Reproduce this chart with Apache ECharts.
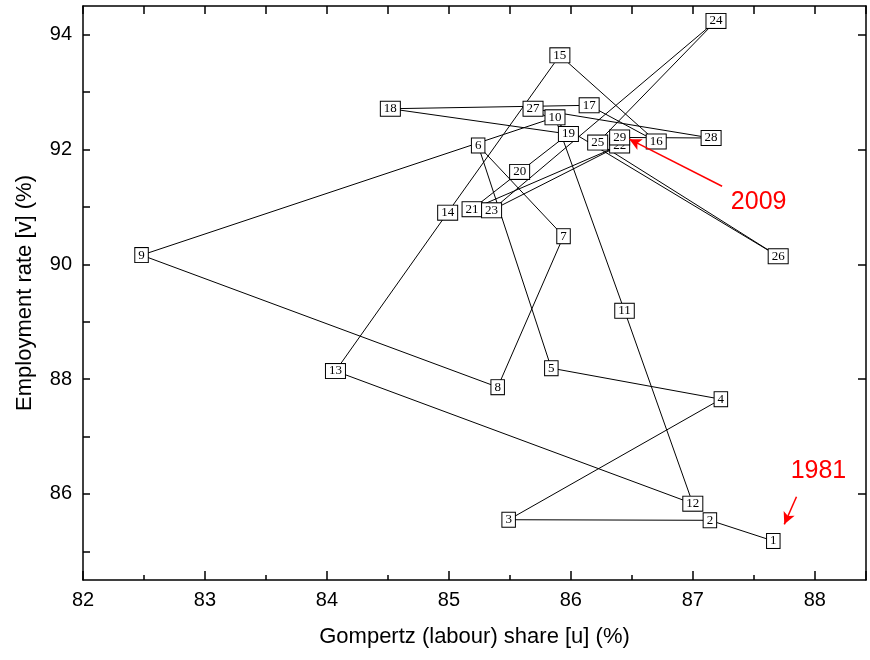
<!DOCTYPE html>
<html>
<head>
<meta charset="utf-8">
<script src="https://cdn.jsdelivr.net/npm/echarts@6/dist/echarts.min.js"></script>
<style>html,body{margin:0;padding:0;background:#fff}#c{width:870px;height:660px}</style>
</head>
<body>
<div id="c"></div>
<script>
// Data (point id = year index, 1 = 1981 ... 29 = 2009)
const pointIds = ['1','2','3','4','5','6','7','8','9','10','11','12','13','14','15','16','17','18','19','20','21','22','23','24','25','26','27','28','29'];
const uShare = [87.66, 87.14, 85.49, 87.23, 85.84, 85.24, 85.94, 85.40, 82.48, 85.87, 86.44, 87.00, 84.07, 84.99, 85.91, 86.70, 86.15, 84.52, 85.98, 85.58, 85.19, 86.40, 85.35, 87.19, 86.22, 87.70, 85.69, 87.15, 86.40];
const vRate = [85.18, 85.54, 85.55, 87.65, 88.19, 92.07, 90.49, 87.86, 90.16, 92.56, 89.19, 85.83, 88.14, 90.90, 93.64, 92.14, 92.77, 92.71, 92.27, 91.61, 90.96, 92.07, 90.94, 94.24, 92.12, 90.14, 92.71, 92.20, 92.21];
const yTicks = [85, 86, 87, 88, 89, 90, 91, 92, 93, 94];
const yLabels = [86, 88, 90, 92, 94];
// annotations (data coords)
const annoText = ['2009', '1981'];
const annoTextPos = [[87.54, 91.08], [88.03, 86.40]];
const annoArrowFrom = [[87.24, 91.36], [87.85, 85.95]];
const annoArrowTo = [[86.48, 92.18], [87.75, 85.47]];

const X_MIN = 82, X_MAX = 88.42, Y_MIN = 84.5, Y_MAX = 94.5;
const sans = 'Liberation Sans, Arial, sans-serif';
const axisLineStyle = {color: '#000', width: 1.5};
const tickStyle = {color: '#000', width: 1.5};
const clear = 'rgba(0,0,0,0)';

const chart = echarts.init(document.getElementById('c'), null, {renderer: 'canvas'});
const pts = uShare.map((u, i) => [u, vRate[i]]);

chart.setOption({
  animation: false,
  backgroundColor: '#fff',
  grid: {left: 83, right: 4, top: 6, bottom: 80, containLabel: false},
  xAxis: [
    {type: 'value', min: X_MIN, max: X_MAX, interval: 1, position: 'bottom',
     name: 'Gompertz (labour) share [u] (%)', nameLocation: 'middle', nameGap: 46,
     nameTextStyle: {fontFamily: sans, fontSize: 22, color: '#000'},
     axisLine: {show: true, onZero: false, lineStyle: axisLineStyle},
     axisTick: {show: true, inside: true, length: 9, lineStyle: tickStyle},
     minorTick: {show: true, splitNumber: 2, length: 5, lineStyle: tickStyle},
     axisLabel: {show: true, fontFamily: sans, fontSize: 20, color: '#000', margin: 10, showMaxLabel: false,
       formatter: v => (v > 88.1 ? '' : String(v))},
     splitLine: {show: false}, minorSplitLine: {show: false}},
    {type: 'value', min: X_MIN, max: X_MAX, interval: 0.5, position: 'top',
     axisLine: {show: true, onZero: false, lineStyle: axisLineStyle},
     axisTick: {show: true, inside: true, length: 8, lineStyle: tickStyle},
     axisLabel: {show: false}, splitLine: {show: false}}
  ],
  yAxis: [
    {type: 'value', min: Y_MIN, max: Y_MAX, position: 'left',
     name: 'Employment rate [v] (%)', nameLocation: 'middle', nameGap: 47,
     nameTextStyle: {fontFamily: sans, fontSize: 22, color: '#000'},
     axisLine: {show: true, onZero: false, lineStyle: axisLineStyle},
     axisTick: {show: true, inside: true, length: 7, customValues: yTicks, lineStyle: tickStyle},
     axisLabel: {show: true, customValues: yLabels, fontFamily: sans, fontSize: 20, color: '#000', margin: 11},
     splitLine: {show: false}},
    {type: 'value', min: Y_MIN, max: Y_MAX, position: 'right',
     axisLine: {show: true, onZero: false, lineStyle: axisLineStyle},
     axisTick: {show: true, inside: true, length: 8, customValues: yLabels, lineStyle: tickStyle},
     axisLabel: {show: false}, splitLine: {show: false}}
  ],
  series: [
    {type: 'line', data: pts, symbol: 'none', silent: true, z: 2,
     lineStyle: {color: '#000', width: 1}},
    {type: 'scatter', data: pts, symbol: 'rect', symbolSize: 1, itemStyle: {color: clear, opacity: 1}, silent: true, z: 3,
     label: {show: true, position: 'inside',
       formatter: p => pointIds[p.dataIndex],
       fontFamily: 'Liberation Serif, Times New Roman, serif', fontSize: 13, color: '#000',
       backgroundColor: '#fff', borderColor: '#000', borderWidth: 1, padding: [1, 3, 0, 3], lineHeight: 13}},
    {type: 'scatter', data: annoTextPos, symbol: 'rect', symbolSize: 1, itemStyle: {color: clear, opacity: 1}, silent: true, z: 4,
     label: {show: true, position: 'inside', formatter: p => annoText[p.dataIndex],
       fontFamily: sans, fontSize: 25, color: '#ff0000'},
     markLine: {silent: true, symbol: ['none', 'arrow'], symbolSize: [9, 12],
       lineStyle: {color: '#ff0000', width: 1.5, type: 'solid', opacity: 1}, label: {show: false},
       data: annoArrowFrom.map((f, i) => [{coord: f}, {coord: annoArrowTo[i]}])}}
  ]
});
</script>
</body>
</html>
